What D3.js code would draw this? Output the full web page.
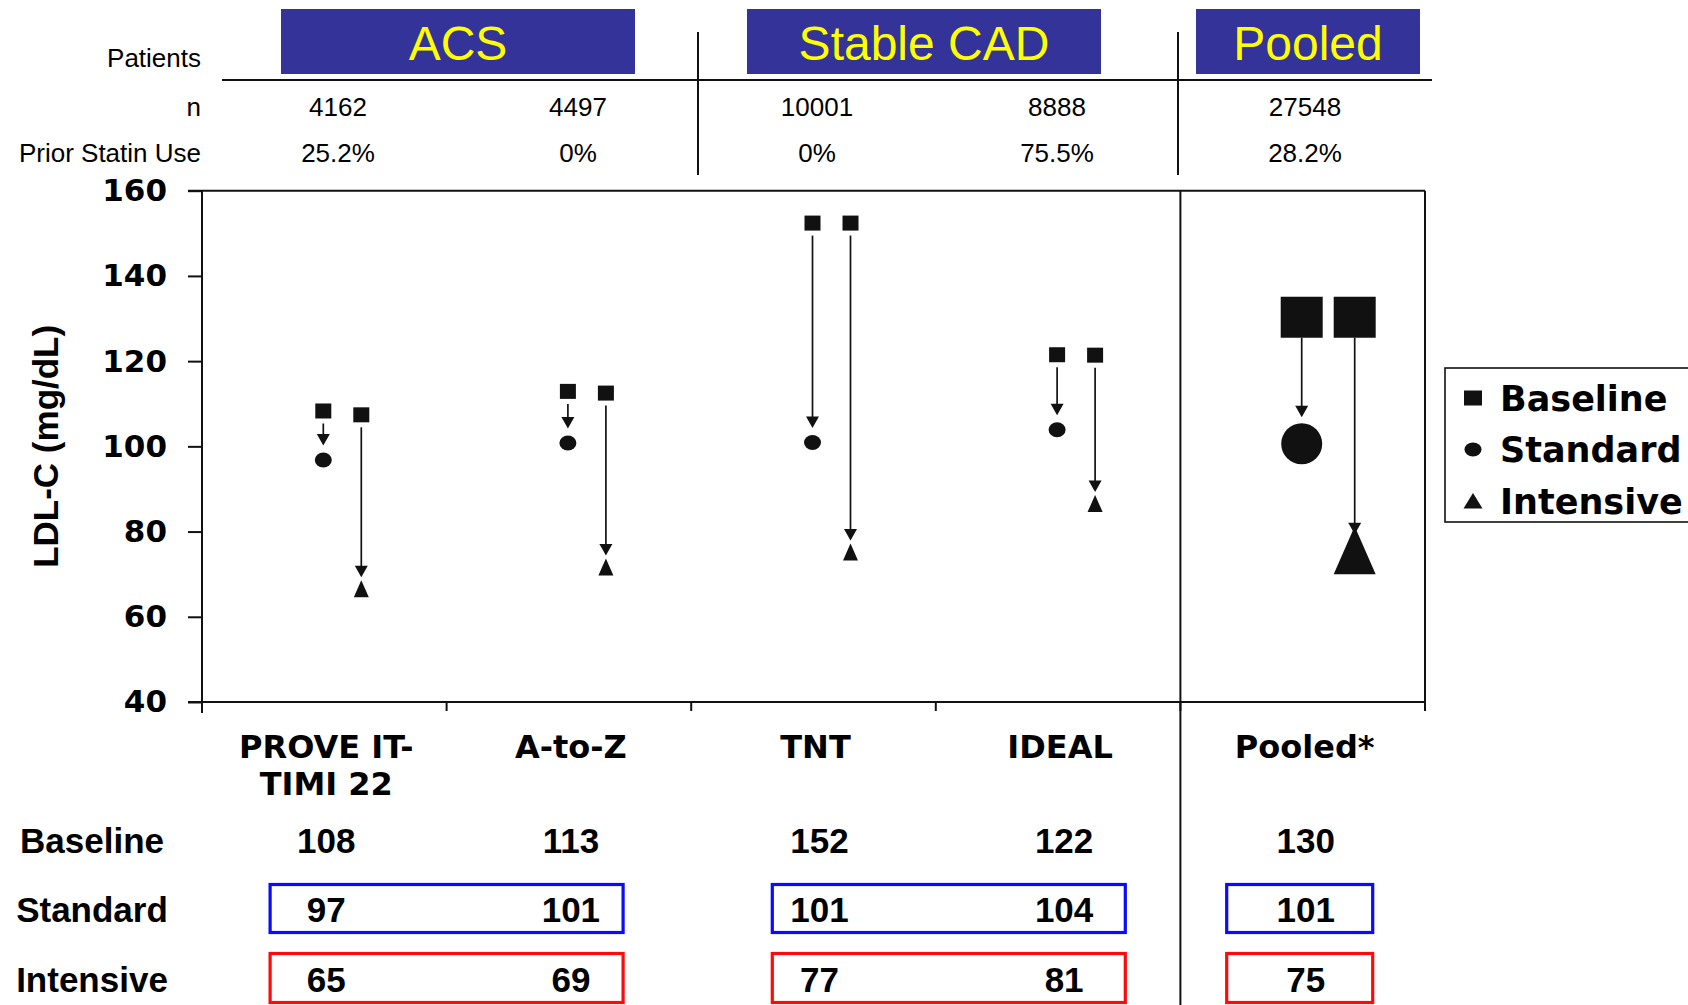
<!DOCTYPE html>
<html><head><meta charset="utf-8">
<script src="https://cdn.jsdelivr.net/npm/d3@7"></script>
<style>body{margin:0;background:#fff;overflow:hidden}</style>
</head><body>
<svg id="chart" width="1688" height="1005"></svg>
<script>
// ---------- data ----------
const studies = ["PROVE IT-|TIMI 22", "A-to-Z", "TNT", "IDEAL", "Pooled*"];
const groups = ["ACS", "Stable CAD", "Pooled"];
const groupOfStudy = [0, 0, 1, 1, 2];
const patientsN = ["4162", "4497", "10001", "8888", "27548"];
const priorStatin = ["25.2%", "0%", "0%", "75.5%", "28.2%"];
const rowLabels = ["Baseline", "Standard", "Intensive"];
const baselineTable = [108, 113, 152, 122, 130];
const standardTable = [97, 101, 101, 104, 101];
const intensiveTable = [65, 69, 77, 81, 75];
// marker positions as plotted in the figure (mg/dL)
const baselineStdArm = [108.3, 112.9, 152.4, 121.5, 130.3];
const baselineIntArm = [107.4, 112.5, 152.4, 121.4, 130.3];
const standardPlot = [96.8, 100.8, 100.9, 103.9, 100.6];
const intensivePlot = [66.6, 71.7, 75.2, 86.6, 75.6];
const yTicks = [40, 60, 80, 100, 120, 140, 160];
const legendItems = ["Baseline", "Standard", "Intensive"];

// ---------- layout ----------
const svg = d3.select("#chart");
const ink = "#111";
const SANS = "'Liberation Sans', Arial, Helvetica, sans-serif";
const WIDE = "'DejaVu Sans', Verdana, sans-serif";
const idx = d3.range(studies.length);
const x = d3.scaleBand().domain(idx).range([202, 1425]);
const bw = x.bandwidth();
const cx = i => x(i) + bw / 2;
const y = d3.scaleLinear().domain([40, 160]).range([702, 190.7]);
const hx = d3.scaleBand().domain(idx).range([218, 1418]);
// small hand-layout nudges per group (header boxes, header text, bottom boxes, bottom values)
const headBoxNudge = [0, -14, 10];
const headTextNudge = [0, -1, 7];
const tableBoxNudge = [0, 13, -3];
const tableTextNudge = [0, 4, 1];
const hcx = i => hx(i) + hx.bandwidth() / 2 + headTextNudge[groupOfStudy[i]];
const isBig = i => i === studies.length - 1;
const dims = i => isBig(i)
  ? {sw: 42, sh: 41, rx: 20.5, ry: 20.5, tw: 42, th: 48, off: 53, g0: 0, gc: 6, gt: -8}
  : {sw: 16, sh: 15, rx: 8.5, ry: 7.5, tw: 15, th: 17, off: 38, g0: 5, gc: 7, gt: 3};
const xStd = i => cx(i) - 1;
const xInt = i => xStd(i) + dims(i).off;
const tcx = i => cx(i) + 2 + tableTextNudge[groupOfStudy[i]];

// ---------- header table ----------
const head = svg.append("g").attr("font-family", SANS).attr("fill", "#000");
head.selectAll("text.rl").data([["Patients", 67], ["n", 116], ["Prior Statin Use", 162]])
  .join("text").attr("class", "rl")
  .attr("x", 201).attr("y", d => d[1]).attr("text-anchor", "end").attr("font-size", 26)
  .text(d => d[0]);
head.selectAll("text.nv").data(patientsN).join("text").attr("class", "nv")
  .attr("x", (d, i) => hcx(i)).attr("y", 116).attr("text-anchor", "middle").attr("font-size", 26)
  .text(d => d);
head.selectAll("text.ps").data(priorStatin).join("text").attr("class", "ps")
  .attr("x", (d, i) => hcx(i)).attr("y", 162).attr("text-anchor", "middle").attr("font-size", 26)
  .text(d => d);

const groupInfo = groups.map((g, k) => {
  const members = idx.filter(i => groupOfStudy[i] === k);
  return {name: g, k, members, c: d3.mean(members, i => hx(i) + hx.bandwidth() / 2) + headBoxNudge[k],
          pc: d3.mean(members, cx) + tableBoxNudge[k]};
});
const gBoxes = head.selectAll("g.gb").data(groupInfo).join("g").attr("class", "gb");
gBoxes.append("rect")
  .attr("x", d => d.c - (d.members.length > 1 ? 177 : 112))
  .attr("width", d => d.members.length > 1 ? 354 : 224)
  .attr("y", 9).attr("height", 65).attr("fill", "#333399");
gBoxes.append("text").attr("x", d => d.c).attr("y", 60).attr("text-anchor", "middle")
  .attr("font-size", 48).attr("fill", "#ffff00").text(d => d.name);

head.append("line").attr("x1", hx.range()[0] + 4).attr("x2", hx.range()[1] + 14)
  .attr("y1", 80).attr("y2", 80).attr("stroke", ink).attr("stroke-width", 2.2);
const dividerIdx = idx.filter(i => i > 0 && groupOfStudy[i] !== groupOfStudy[i - 1]);
head.selectAll("line.dv").data(dividerIdx).join("line").attr("class", "dv")
  .attr("x1", i => hx(i)).attr("x2", i => hx(i)).attr("y1", 32).attr("y2", 175)
  .attr("stroke", ink).attr("stroke-width", 2);

// ---------- plot frame & axes ----------
const frame = svg.append("g").attr("stroke", ink).attr("stroke-width", 2).attr("fill", "none");
const [xl, xr] = x.range();
frame.append("line").attr("x1", xl).attr("x2", xl).attr("y1", y(160)).attr("y2", y(40) + 11);
frame.append("line").attr("x1", xl - 14).attr("x2", xr).attr("y1", y(160)).attr("y2", y(160));
frame.append("line").attr("x1", xl - 14).attr("x2", xr).attr("y1", y(40)).attr("y2", y(40));
frame.append("line").attr("x1", xr).attr("x2", xr).attr("y1", y(160)).attr("y2", y(40) + 9);
frame.selectAll("line.bt").data(idx.slice(1)).join("line").attr("class", "bt")
  .attr("x1", i => x(i)).attr("x2", i => x(i)).attr("y1", y(40)).attr("y2", y(40) + 9);
const poolStart = x(studies.length - 1);
frame.append("line").attr("x1", poolStart).attr("x2", poolStart)
  .attr("y1", y(160)).attr("y2", 1005);

const yAxis = svg.append("g").attr("transform", `translate(${xl},0)`)
  .call(d3.axisLeft(y).tickValues(yTicks).tickSize(14).tickPadding(21).tickFormat(d3.format("d")));
yAxis.select(".domain").remove();
yAxis.selectAll(".tick line").attr("stroke", ink).attr("stroke-width", 2);
yAxis.selectAll(".tick text").attr("font-family", WIDE).attr("font-weight", "bold")
  .attr("font-size", 31).attr("fill", "#000");

svg.append("text").attr("transform", `translate(58,${(y(160) + y(40)) / 2})rotate(-90)`)
  .attr("text-anchor", "middle").attr("font-family", SANS).attr("font-weight", "bold")
  .attr("font-size", 35).text("LDL-C (mg/dL)");

// ---------- markers & arrows ----------
const marks = svg.append("g").attr("fill", ink).attr("stroke", "none");
function arrow(xp, y1, y2) {
  const hh = 11.5, hw = 6.5;
  marks.append("line").attr("x1", xp).attr("x2", xp).attr("y1", y1).attr("y2", y2 - hh + 2)
    .attr("stroke", ink).attr("stroke-width", 1.7);
  marks.append("path").attr("d", `M${xp},${y2} L${xp - hw},${y2 - hh} L${xp + hw},${y2 - hh} Z`);
}
idx.forEach(i => {
  const d = dims(i);
  [[xStd(i), baselineStdArm[i]], [xInt(i), baselineIntArm[i]]].forEach(([px, v]) => {
    marks.append("rect").attr("x", px - d.sw / 2).attr("y", y(v) - d.sh / 2)
      .attr("width", d.sw).attr("height", d.sh);
  });
  marks.append("ellipse").attr("cx", xStd(i)).attr("cy", y(standardPlot[i]))
    .attr("rx", d.rx).attr("ry", d.ry);
  const ty = y(intensivePlot[i]) - d.th / 2, tx = xInt(i);
  marks.append("path").attr("d", `M${tx},${ty} L${tx + d.tw / 2},${ty + d.th} L${tx - d.tw / 2},${ty + d.th} Z`);
  arrow(xStd(i), y(baselineStdArm[i]) + d.sh / 2 + d.g0, y(standardPlot[i]) - d.ry - d.gc);
  arrow(xInt(i), y(baselineIntArm[i]) + d.sh / 2 + d.g0, ty - d.gt);
});

// ---------- legend ----------
const leg = svg.append("g");
leg.append("rect").attr("x", 1445).attr("y", 368).attr("width", 270).attr("height", 154)
  .attr("fill", "#fff").attr("stroke", ink).attr("stroke-width", 1.6);
const legY = [398, 449.5, 501];
const lg = leg.selectAll("g.li").data(legendItems).join("g").attr("class", "li")
  .attr("transform", (d, k) => `translate(1473,${legY[k]})`);
lg.each(function (d, k) {
  const g = d3.select(this);
  if (k === 0) g.append("rect").attr("x", -9).attr("y", -7.5).attr("width", 18).attr("height", 15).attr("fill", ink);
  if (k === 1) g.append("ellipse").attr("rx", 8.5).attr("ry", 7).attr("fill", ink);
  if (k === 2) g.append("path").attr("d", "M0,-8 L9.5,7.5 L-9.5,7.5 Z").attr("fill", ink);
});
lg.append("text").attr("x", 27).attr("y", 12.6).attr("font-family", WIDE).attr("font-weight", "bold")
  .attr("font-size", 35).attr("fill", "#000").text(d => d);

// ---------- category labels ----------
const cat = svg.append("g").attr("font-family", WIDE).attr("font-weight", "bold")
  .attr("font-size", 32).attr("text-anchor", "middle").attr("fill", "#000");
cat.selectAll("text").data(studies).join("text")
  .attr("x", (d, i) => cx(i) + 2).attr("y", 758)
  .each(function (d) {
    const t = d3.select(this);
    d.split("|").forEach((line, j) => {
      t.append("tspan").attr("x", t.attr("x")).attr("dy", j === 0 ? 0 : 37).text(line);
    });
  });

// ---------- bottom table ----------
const tbl = svg.append("g").attr("font-family", SANS).attr("font-weight", "bold")
  .attr("font-size", 35).attr("fill", "#000").attr("text-anchor", "middle");
const rowY = [853, 922, 992];
tbl.selectAll("text.rlab").data(rowLabels).join("text").attr("class", "rlab")
  .attr("x", 92).attr("y", (d, k) => rowY[k]).text(d => d);
[baselineTable, standardTable, intensiveTable].forEach((arr, k) => {
  tbl.selectAll(`text.v${k}`).data(arr).join("text").attr("class", `v${k}`)
    .attr("x", (d, i) => tcx(i)).attr("y", rowY[k]).text(d => d);
});
const boxRows = [{y: 884.5, h: 48, c: "#0a0aff"}, {y: 953.5, h: 49, c: "#ff0a0a"}];
boxRows.forEach(r => {
  svg.append("g").selectAll("rect").data(groupInfo).join("rect")
    .attr("x", d => d.pc - (d.members.length > 1 ? 176.5 : 73))
    .attr("width", d => d.members.length > 1 ? 353 : 146)
    .attr("y", r.y).attr("height", r.h)
    .attr("fill", "none").attr("stroke", r.c).attr("stroke-width", 3.2);
});
</script>
</body></html>
